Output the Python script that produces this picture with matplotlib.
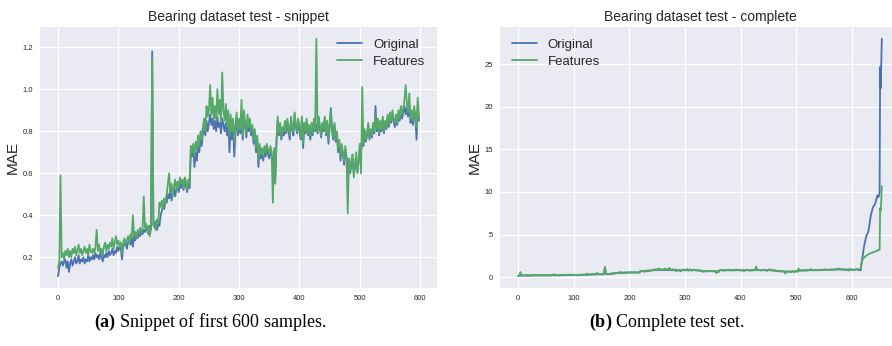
import numpy as np
import matplotlib
matplotlib.use("Agg")
import matplotlib.pyplot as plt

# ---------------- data ----------------
# sample indices of the snippet (every 2nd sample, 0..598)
snippet_idx = np.arange(0, 600, 2)

original_snippet = [
    0.11, 0.15, 0.17, 0.18, 0.16, 0.18, 0.19, 0.15, 0.18, 0.13,
    0.17, 0.19, 0.16, 0.18, 0.20, 0.17, 0.18, 0.21, 0.17, 0.19,
    0.18, 0.20, 0.17, 0.19, 0.18, 0.21, 0.18, 0.20, 0.19, 0.21,
    0.19, 0.22, 0.20, 0.21, 0.19, 0.22, 0.20, 0.18, 0.21, 0.20,
    0.22, 0.20, 0.23, 0.21, 0.22, 0.24, 0.21, 0.23, 0.22, 0.25,
    0.23, 0.25, 0.24, 0.19, 0.25, 0.26, 0.27, 0.24, 0.27, 0.28,
    0.26, 0.29, 0.25, 0.30, 0.28, 0.31, 0.29, 0.32, 0.30, 0.33,
    0.31, 0.33, 0.32, 0.34, 0.33, 0.31, 0.35, 0.33, 1.18, 0.36,
    0.34, 0.37, 0.33, 0.36, 0.35, 0.40, 0.42, 0.45, 0.43, 0.47,
    0.46, 0.50, 0.48, 0.52, 0.47, 0.50, 0.53, 0.49, 0.52, 0.54,
    0.51, 0.55, 0.53, 0.56, 0.52, 0.57, 0.54, 0.51, 0.55, 0.53,
    0.70, 0.68, 0.72, 0.63, 0.70, 0.66, 0.74, 0.70, 0.76, 0.73,
    0.79, 0.82, 0.78, 0.85, 0.80, 0.84, 0.88, 0.83, 0.86, 0.81,
    0.85, 0.80, 0.87, 0.82, 0.84, 0.79, 0.86, 0.83, 0.80, 0.84,
    0.78, 0.86, 0.70, 0.82, 0.76, 0.84, 0.68, 0.80, 0.85, 0.78,
    0.83, 0.79, 0.86, 0.76, 0.88, 0.82, 0.77, 0.85, 0.80, 0.83,
    0.78, 0.81, 0.74, 0.79, 0.70, 0.76, 0.63, 0.72, 0.67, 0.70,
    0.66, 0.71, 0.68, 0.73, 0.69, 0.67, 0.71, 0.68, 0.62, 0.70,
    0.58, 0.75, 0.85, 0.78, 0.82, 0.76, 0.80, 0.78, 0.83, 0.79,
    0.84, 0.80, 0.76, 0.85, 0.81, 0.78, 0.88, 0.82, 0.79, 0.84,
    0.80, 0.76, 0.85, 0.72, 0.82, 0.79, 0.84, 0.78, 0.81, 0.76,
    0.82, 0.78, 0.85, 0.80, 0.83, 0.79, 0.86, 0.81, 0.77, 0.83,
    0.80, 0.86, 0.78, 0.84, 0.74, 0.82, 0.91, 0.80, 0.76, 0.83,
    0.75, 0.78, 0.70, 0.74, 0.66, 0.72, 0.69, 0.64, 0.71, 0.67,
    0.62, 0.66, 0.60, 0.64, 0.67, 0.60, 0.63, 0.68, 0.61, 0.65,
    0.72, 0.70, 0.76, 0.73, 0.80, 0.75, 0.78, 0.82, 0.76, 0.80,
    0.77, 0.82, 0.79, 0.92, 0.80, 0.84, 0.78, 0.83, 0.80, 0.85,
    0.79, 0.84, 0.81, 0.86, 0.82, 0.87, 0.84, 0.88, 0.85, 0.82,
    0.86, 0.83, 0.88, 0.85, 0.90, 0.86, 0.89, 0.92, 0.88, 0.91,
    0.87, 0.93, 0.84, 0.88, 0.83, 0.90, 0.86, 0.76, 0.92, 0.85,
]

features_snippet = [
    0.15, 0.18, 0.59, 0.20, 0.22, 0.19, 0.23, 0.21, 0.24, 0.20,
    0.23, 0.20, 0.24, 0.22, 0.25, 0.21, 0.23, 0.26, 0.22, 0.24,
    0.21, 0.23, 0.25, 0.22, 0.24, 0.21, 0.26, 0.23, 0.22, 0.24,
    0.22, 0.25, 0.33, 0.23, 0.26, 0.22, 0.24, 0.21, 0.25, 0.27,
    0.23, 0.26, 0.24, 0.27, 0.25, 0.29, 0.24, 0.27, 0.30, 0.26,
    0.28, 0.25, 0.27, 0.22, 0.27, 0.29, 0.26, 0.28, 0.30, 0.27,
    0.31, 0.29, 0.40, 0.30, 0.32, 0.29, 0.33, 0.31, 0.34, 0.32,
    0.33, 0.49, 0.34, 0.36, 0.32, 0.35, 0.30, 0.34, 1.15, 0.35,
    0.37, 0.33, 0.38, 0.36, 0.46, 0.44, 0.47, 0.43, 0.48, 0.46,
    0.50, 0.55, 0.60, 0.51, 0.55, 0.49, 0.54, 0.57, 0.52, 0.56,
    0.53, 0.58, 0.55, 0.57, 0.53, 0.58, 0.56, 0.52, 0.57, 0.55,
    0.73, 0.70, 0.74, 0.68, 0.75, 0.71, 0.78, 0.73, 0.80, 0.76,
    0.82, 0.86, 0.80, 0.92, 0.87, 0.90, 1.02, 0.88, 0.96, 0.85,
    0.92, 0.86, 1.00, 0.88, 0.95, 0.84, 1.08, 0.90, 0.85, 0.93,
    0.82, 0.90, 0.78, 0.88, 0.80, 0.86, 0.75, 0.83, 0.89, 0.80,
    0.86, 0.81, 0.95, 0.78, 0.90, 0.84, 0.79, 0.88, 0.82, 0.86,
    0.80, 0.83, 0.76, 0.81, 0.72, 0.78, 0.66, 0.74, 0.69, 0.72,
    0.68, 0.73, 0.70, 0.74, 0.71, 0.69, 0.73, 0.70, 0.46, 0.72,
    0.55, 0.76, 0.87, 0.79, 0.84, 0.77, 0.82, 0.80, 0.85, 0.80,
    0.86, 0.81, 0.78, 0.87, 0.82, 0.80, 0.89, 0.83, 0.80, 0.86,
    0.82, 0.77, 0.87, 0.74, 0.84, 0.80, 0.86, 0.79, 0.83, 0.78,
    0.84, 0.79, 0.86, 0.81, 1.24, 0.80, 0.87, 0.82, 0.78, 0.84,
    0.81, 0.87, 0.79, 0.85, 0.76, 0.83, 0.90, 0.81, 0.77, 0.84,
    0.76, 0.80, 0.72, 0.76, 0.68, 0.74, 0.70, 0.66, 0.73, 0.68,
    0.41, 0.67, 0.61, 0.66, 0.69, 0.58, 0.64, 0.70, 0.60, 0.66,
    0.74, 0.60, 1.01, 0.74, 0.81, 0.76, 0.79, 0.84, 0.77, 0.81,
    0.78, 0.84, 0.80, 0.88, 0.81, 0.86, 0.79, 0.85, 0.81, 0.87,
    0.80, 0.85, 0.82, 0.88, 0.83, 0.89, 0.85, 0.90, 0.86, 0.84,
    0.88, 0.84, 0.90, 0.86, 0.92, 0.88, 0.91, 0.95, 1.02, 0.93,
    0.89, 0.98, 0.86, 0.90, 0.85, 0.92, 0.88, 0.82, 0.96, 0.86,
]

# remaining samples of the complete test set (after the snippet)
tail_idx = [600, 604, 608, 612, 616, 618, 622, 626, 630, 634, 638, 642,
            646, 648, 650, 651, 652, 653, 654]
original_tail = [0.88, 0.82, 0.90, 0.85, 0.80, 1.8, 3.6, 4.8, 5.4, 7.2, 8.2,
                 8.6, 9.6, 9.4, 9.9, 24.7, 22.2, 25.0, 28.0]
features_tail = [0.90, 0.85, 0.95, 0.88, 1.00, 1.9, 2.3, 2.5, 2.7, 2.8, 2.9,
                 3.0, 3.1, 3.2, 3.2, 8.1, 7.8, 9.0, 10.7]

titles = ["Bearing dataset test - snippet", "Bearing dataset test - complete"]
series_names = ["Original", "Features"]
captions = [("(a)", "Snippet of first 600 samples."), ("(b)", "Complete test set.")]

# ---------------- style ----------------
plt.style.use("seaborn-v0_8-darkgrid")
plt.rcParams["font.family"] = ["Liberation Sans", "DejaVu Sans"]
plt.rcParams["mathtext.fontset"] = "custom"
plt.rcParams["mathtext.rm"] = "Liberation Serif"
plt.rcParams["mathtext.bf"] = "Liberation Serif:bold"

BLUE = "#4C72B0"
GREEN = "#55A868"
TXT = "#262626"

fig = plt.figure(figsize=(8.92, 3.46), dpi=100)
ax1 = fig.add_axes([40 / 892, 1 - 288 / 346, 397 / 892, 261 / 346])
ax2 = fig.add_axes([500 / 892, 1 - 288 / 346, 400 / 892, 261 / 346])

full_idx = np.concatenate([snippet_idx, tail_idx])
full_orig = np.concatenate([original_snippet, original_tail])
full_feat = np.concatenate([features_snippet, features_tail])

ax1.plot(snippet_idx, original_snippet, color=BLUE, lw=1.3, label=series_names[0])
ax1.plot(snippet_idx, features_snippet, color=GREEN, lw=1.3, label=series_names[1])
ax2.plot(full_idx, full_orig, color=BLUE, lw=1.3, label=series_names[0])
ax2.plot(full_idx, full_feat, color=GREEN, lw=1.3, label=series_names[1])

for ax, title, loc in [(ax1, titles[0], "upper right"), (ax2, titles[1], "upper left")]:
    ax.set_facecolor("#EAEAF2")
    ax.grid(True, color="white", lw=1.0)
    ax.set_title(title, fontsize=10, color=TXT, pad=4)
    ax.set_ylabel("MAE", fontsize=11, color=TXT, labelpad=2)
    ax.tick_params(axis="both", labelsize=5.5, colors=TXT, length=0, pad=5)
    for s in ax.spines.values():
        s.set_visible(False)
    leg = ax.legend(loc=loc, fontsize=9.5, frameon=False, handlelength=1.9,
                    borderaxespad=0.5, labelspacing=0.35, handletextpad=0.8)

ax1.set_xticks(np.arange(0, 700, 100))
ax2.set_xticks(np.arange(0, 700, 100))

for (lab, rest), xc in zip(captions, [210 / 892, 667 / 892]):
    fig.text(xc, 1 - 322 / 346, r"$\mathbf{" + lab + "}$ " + rest,
             ha="center", va="center", fontsize=13,
             family="Liberation Serif", color="black")

fig.savefig("out.png", dpi=100)
